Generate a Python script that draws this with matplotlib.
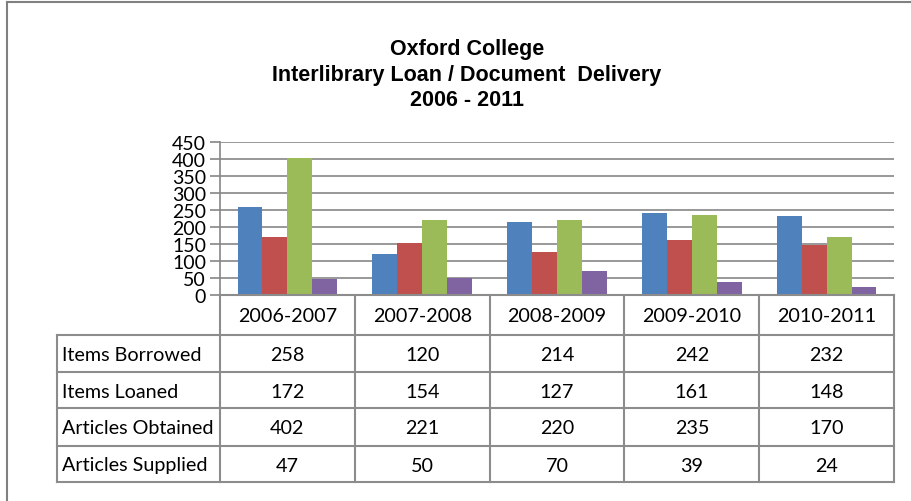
import matplotlib
matplotlib.use("Agg")
import matplotlib.pyplot as plt
from matplotlib.lines import Line2D
import numpy as np

# data
years = ["2006-2007", "2007-2008", "2008-2009", "2009-2010", "2010-2011"]
series = ["Items Borrowed", "Items Loaned", "Articles Obtained", "Articles Supplied"]
items_borrowed = [258, 120, 214, 242, 232]
items_loaned = [172, 154, 127, 161, 148]
articles_obtained = [402, 221, 220, 235, 170]
articles_supplied = [47, 50, 70, 39, 24]
values = [items_borrowed, items_loaned, articles_obtained, articles_supplied]
colors = ["#4F81BD", "#C0504D", "#9BBB59", "#8064A2"]
yticks = list(range(0, 451, 50))

W, H = 911, 502
GRID = "#868686"
TXT = "Lato"

fig = plt.figure(figsize=(W / 100, H / 100), dpi=100)
fig.patch.set_facecolor("white")

def fx(px):
    return px / W

def fy(py):
    return 1 - py / H

# outer chart border (top and left visible)
fig.add_artist(Line2D([fx(7), 1], [fy(2.5), fy(2.5)], color="#808080", lw=1.5))
fig.add_artist(Line2D([fx(7), fx(7)], [fy(2.5), 0], color="#808080", lw=1.5))

# title
title_lines = ["Oxford College", "Interlibrary Loan / Document  Delivery", "2006 - 2011"]
for i, t in enumerate(title_lines):
    fig.text(fx(467), fy(49 + 26 * i), t, ha="center", va="center",
             family="Liberation Sans", weight="bold", fontsize=15.5)

# bar plot area
x0, x1 = 220, 894
ytop, ybot = 143, 296
ax = fig.add_axes([fx(x0), fy(ybot), fx(x1 - x0), (ybot - ytop) / H])
x = np.arange(len(years))
bw = 0.185
for i, (vals, c) in enumerate(zip(values, colors)):
    ax.bar(x + (i - 1.5) * bw, vals, width=bw, color=c, zorder=3)
ax.set_xlim(-0.5, len(years) - 0.5)
ax.set_ylim(0, 450)
ax.set_yticks(yticks)
ax.set_yticklabels([str(v) for v in yticks], family=TXT, fontsize=14)
ax.set_xticks([])
ax.yaxis.grid(True, color=GRID, lw=1.2, zorder=0)
for s in ["top", "right", "bottom"]:
    ax.spines[s].set_visible(False)
ax.spines["left"].set_color(GRID)
ax.spines["left"].set_linewidth(1.2)
ax.tick_params(axis="y", length=7, width=1.2, color=GRID, pad=3)
ax.set_facecolor("none")

# data table below
tl, tb = 57, 483
cat_px = (x1 - x0) / len(years)
tax = fig.add_axes([fx(tl), fy(tb), fx(x1 - tl), (tb - ybot) / H])
tax.set_xlim(-0.5 - (x0 - tl) / cat_px, len(years) - 0.5)
row_edges = [0, 40, 77, 113, 151, 187]
tax.set_ylim(row_edges[-1], 0)
tax.axis("off")
lw = 1.5
lc = "#8C8C8C"
left = -0.5 - (x0 - tl) / cat_px
# horizontal lines
tax.plot([-0.5, len(years) - 0.5], [0, 0], color=lc, lw=lw, clip_on=False)
for r in row_edges[1:]:
    tax.plot([left, len(years) - 0.5], [r, r], color=lc, lw=lw, clip_on=False)
# vertical lines
for k in range(len(years) + 1):
    tax.plot([k - 0.5, k - 0.5], [0, row_edges[-1]], color=lc, lw=lw, clip_on=False)
tax.plot([left, left], [row_edges[1], row_edges[-1]], color=lc, lw=lw, clip_on=False)

fs = 14.2
for k, yr in enumerate(years):
    tax.text(k, row_edges[0] + 21, yr, ha="center", va="center", family=TXT, fontsize=fs)
for r, (name, vals) in enumerate(zip(series, values)):
    yc = (row_edges[r + 1] + row_edges[r + 2]) / 2 + 1
    tax.text(left + 0.035, yc, name, ha="left", va="center", family=TXT, fontsize=fs)
    for k, v in enumerate(vals):
        tax.text(k, yc, str(v), ha="center", va="center", family=TXT, fontsize=fs)

fig.savefig("out.png", dpi=100)
